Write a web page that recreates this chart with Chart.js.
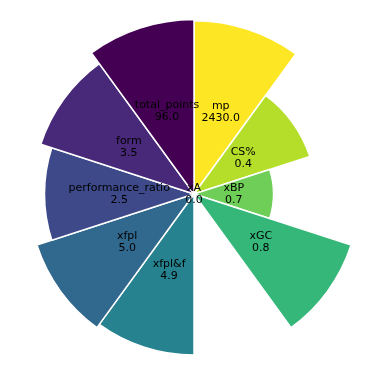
<!DOCTYPE html>
<html>
<head>
<meta charset="utf-8">
<script src="https://cdn.jsdelivr.net/npm/chart.js@4"></script>
<style>
  html, body { margin: 0; padding: 0; background: #fff; }
  #wrap { width: 389px; height: 389px; }
</style>
</head>
<body>
<div id="wrap"><canvas id="grafico-radar"></canvas></div>
<script>
// categories, clockwise from the top
const categorias = ['mp', 'CS%', 'xBP', 'xGC', 'xA', 'xfpl&f', 'xfpl', 'performance_ratio', 'form', 'total_points'];
// normalised bar heights (0..1)
const alturas = [0.973, 0.684, 0.447, 0.928, 0.0, 0.905, 0.928, 0.84, 0.905, 0.98];
// raw values printed in each wedge
const valores = [2430.0, 0.4, 0.7, 0.8, 0.0, 4.9, 5.0, 2.5, 3.5, 96.0];
const cores = ['#fde725', '#b5de2b', '#6ece58', '#35b779', '#1f9e89', '#26828e', '#31688e', '#3e4989', '#482878', '#440154'];

const rotulos = {
    id: 'rotulos',
    afterDatasetsDraw(chart) {
        const c = chart.ctx;
        const arcs = chart.getDatasetMeta(0).data;
        c.save();
        c.font = '11px "DejaVu Sans"';
        c.fillStyle = '#000';
        c.textAlign = 'center';
        c.textBaseline = 'middle';
        arcs.forEach((arc, i) => {
            const p = arc.getCenterPoint();
            c.fillText(categorias[i], p.x, p.y - 6);
            c.fillText(valores[i].toFixed(1), p.x, p.y + 6);
        });
        c.restore();
    }
};

const ctx = document.getElementById('grafico-radar').getContext('2d');
new Chart(ctx, {
    type: 'polarArea',
    data: {
        labels: categorias,
        datasets: [{
            data: alturas,
            backgroundColor: cores,
            borderColor: '#fff',
            borderWidth: 1.5
        }]
    },
    options: {
        responsive: true,
        maintainAspectRatio: false,
        animation: false,
        plugins: {
            legend: { display: false },
            tooltip: { enabled: false }
        },
        scales: {
            r: {
                display: false,
                min: 0,
                max: 1.09
            }
        }
    },
    plugins: [rotulos]
});
</script>
</body>
</html>
